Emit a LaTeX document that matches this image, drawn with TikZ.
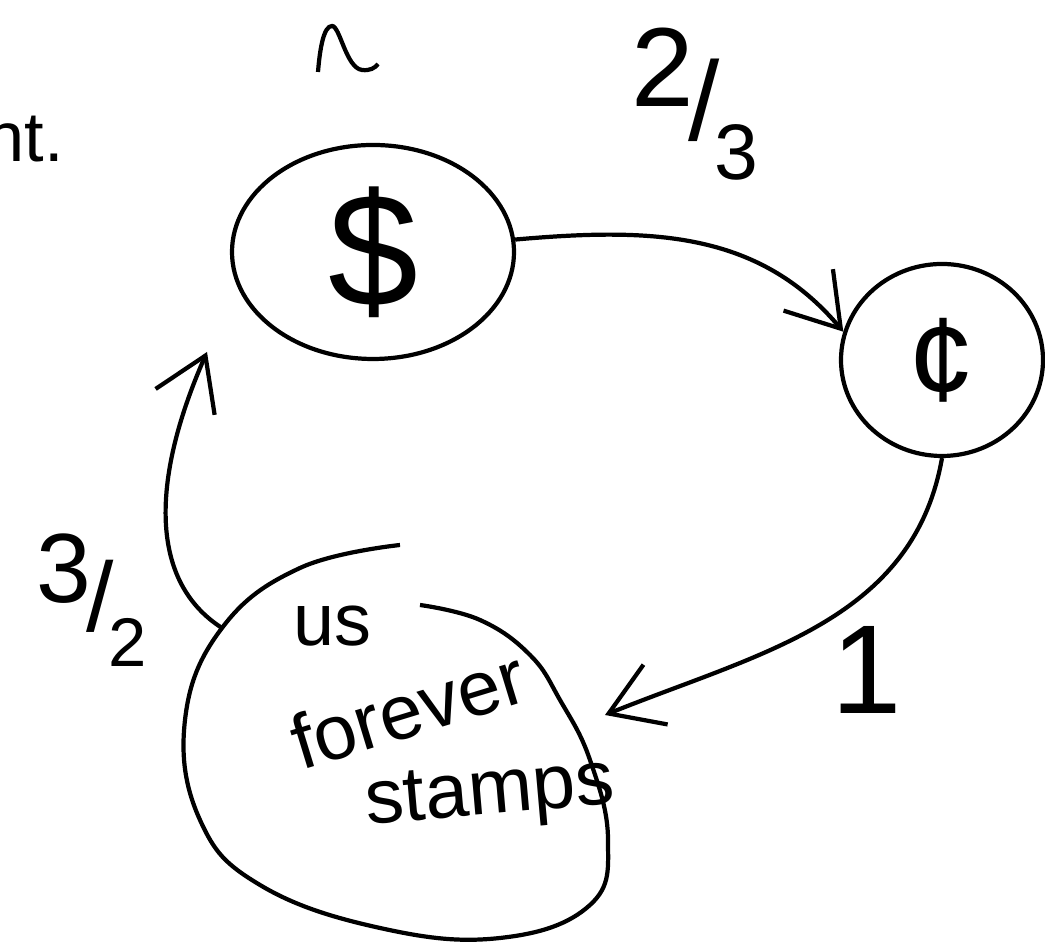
\documentclass[tikz,border=0pt]{standalone}
\usepackage{fontspec}
\setmainfont{Liberation Sans}
\usetikzlibrary{arrows.meta,shapes.geometric,positioning}

\newcommand\slfrac[2]{\raisebox{0.3em}{#1}\kern-0.05em{/}\kern-0.05em\raisebox{-0.35em}{\scalebox{0.7}{#2}}}

\begin{document}
\begin{tikzpicture}[
    every path/.style={line width=1.2pt},
    pen/.style={-{Straight Barb[angle=65:6mm,line width=1.2pt]}},
    blob/.style={draw,ellipse,inner sep=0pt}
]
\useasboundingbox (0,0) rectangle (10.45,9.42);

    \node[anchor=base east,inner sep=0pt,font=\fontsize{20}{20}\selectfont] (cut) at (0.66,7.80) {ght.};

    \node[blob,minimum width=2.82cm,minimum height=2.14cm,font=\fontsize{46}{46}\selectfont] (dol) at (3.73,6.90) {\$};
    \node[blob,minimum width=2.02cm,minimum height=1.92cm,font=\fontsize{34}{34}\selectfont] (cent) at (9.42,5.82) {¢};

    \draw plot[smooth,tension=0.7] coordinates {(4.00,3.97) (3.00,3.74) (2.22,3.14) (1.85,2.22)
        (2.00,1.22) (2.60,0.57) (3.80,0.14) (5.00,0.04) (5.90,0.37) (6.08,1.02) (5.90,1.82)
        (5.60,2.42) (5.30,2.87) (4.80,3.22) (4.20,3.37)};
    \coordinate (sIn) at (6.05,2.27);
    \coordinate (sOut) at (2.22,3.14);
    \coordinate (tipD) at (2.07,5.90);

    \node[font=\fontsize{21}{21}\selectfont] (us) at (3.32,3.16) {us};
    \node[rotate=17,font=\fontsize{22}{22}\selectfont] (forever) at (4.08,2.33) {forever};
    \node[rotate=5,font=\fontsize{22}{22}\selectfont] (stamps) at (4.90,1.45) {stamps};

    \draw[pen] (dol.5) to[out=5,in=130] (cent.164);
    \draw[pen] (cent.south) to[out=-100,in=22] (sIn);
    \draw[pen] (sOut) .. controls (1.5,3.6) and (1.5,4.6) .. (tipD);

    \node[font=\fontsize{32}{32}\selectfont] (lab23) at (6.95,8.38) {\slfrac{2}{3}};
    \node[font=\fontsize{36}{36}\selectfont] (lab1) at (8.67,2.72) {1};
    \node[font=\fontsize{28}{28}\selectfont] (lab32) at (0.92,3.42) {\slfrac{3}{2}};

    \draw (3.18,8.70) .. controls (3.20,8.95) and (3.24,9.16) .. (3.32,9.16)
        .. controls (3.40,9.16) and (3.46,8.74) .. (3.62,8.72)
        .. controls (3.70,8.71) and (3.75,8.74) .. (3.78,8.78);
\end{tikzpicture}
\end{document}
